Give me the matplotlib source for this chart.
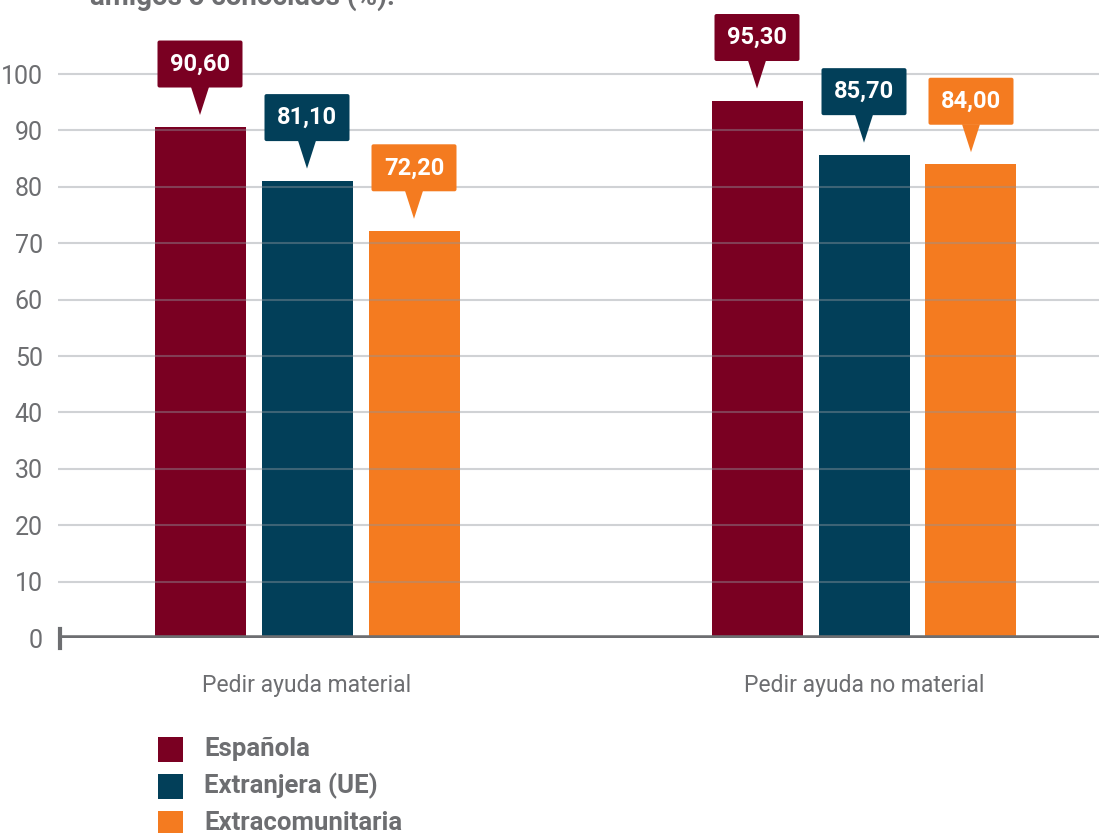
import matplotlib
matplotlib.use("Agg")
import matplotlib.pyplot as plt
import matplotlib.transforms as mtransforms
from matplotlib.patches import Polygon, FancyBboxPatch, Rectangle
import numpy as np

categories = ["Pedir ayuda material", "Pedir ayuda no material"]
series = ["Española", "Extranjera (UE)", "Extracomunitaria"]
values = {
    "Española": [90.60, 95.30],
    "Extranjera (UE)": [81.10, 85.70],
    "Extracomunitaria": [72.20, 84.00],
}
labels = {
    "Española": ["90,60", "95,30"],
    "Extranjera (UE)": ["81,10", "85,70"],
    "Extracomunitaria": ["72,20", "84,00"],
}
colors = ["#7a0022", "#023f59", "#f47b20"]
yticks = [0, 10, 20, 30, 40, 50, 60, 70, 80, 90, 100]
title = "amigos o conocidos (%)."

W, H = 1099, 833
fig = plt.figure(figsize=(W / 100, H / 100), dpi=100)
gray = "#6d6e71"
font = "Roboto"

ax_left, ax_right = 58, 1099
y0_px, y100_px = 638, 74
ppu = (y0_px - y100_px) / 100.0
ymax = 110
ax_top_px = y0_px - ymax * ppu
ax = fig.add_axes([ax_left / W, 1 - y0_px / H, (ax_right - ax_left) / W, (y0_px - ax_top_px) / H])
ax.set_ylim(0, ymax)

pitch = 107 / 557.0
bw = 91 / 557.0
ax.set_xlim(-249 / 557.0, 1 + 235 / 557.0)
x = np.arange(len(categories))

for i, s in enumerate(series):
    xs = x + (i - 1) * pitch
    ax.bar(xs, values[s], width=bw, color=colors[i], zorder=2)

for t in yticks[1:]:
    ax.axhline(t, color="#8f959c", alpha=0.42, lw=1.5, zorder=3)

ax.axhline(0, color=gray, lw=4, zorder=4)

for sp in ax.spines.values():
    sp.set_visible(False)
ax.set_yticks(yticks)
ax.set_yticklabels([str(t) for t in yticks], fontsize=18, color=gray, fontfamily=font, fontweight="normal")
ax.tick_params(axis="y", length=0, pad=11)
ax.set_xticks(x)
ax.set_xticklabels(categories, fontsize=16.5, color=gray, fontfamily=font, fontweight="normal")
ax.tick_params(axis="x", length=0, pad=26)

fig.add_artist(plt.Line2D([59.5 / W, 59.5 / W], [1 - 629 / H, 1 - 648 / H], color=gray, lw=3))

for i, s in enumerate(series):
    xs = x + (i - 1) * pitch
    for xc, v, lab in zip(xs, values[s], labels[s]):
        tr = mtransforms.Affine2D() + mtransforms.ScaledTranslation(xc, v, ax.transData)
        tri = Polygon([[0, 12], [-9, 40], [9, 40]], closed=True, transform=tr,
                      facecolor=colors[i], edgecolor="none", zorder=5, clip_on=False)
        ax.add_patch(tri)
        box = FancyBboxPatch((-41, 41), 82, 44, boxstyle="round,pad=1.5,rounding_size=2",
                             transform=tr, facecolor=colors[i], edgecolor="none",
                             zorder=5, clip_on=False)
        ax.add_patch(box)
        ax.text(0, 63, lab, transform=tr, ha="center", va="center", color="white",
                fontsize=17, fontweight="bold", fontfamily=font, zorder=6)

fig.text(90 / W, 1 - 5 / H, title, ha="left", va="baseline", fontsize=20,
         fontweight="bold", color=gray, fontfamily=font)

for j, s in enumerate(series):
    cy = 749 + j * 37
    fig.add_artist(Rectangle((158 / W, 1 - (cy + 12.5) / H), 25 / W, 25 / H,
                             transform=fig.transFigure, facecolor=colors[j], edgecolor="none"))
    fig.text(204 / W, 1 - cy / H, s, ha="left", va="center", fontsize=18.5,
             fontweight="bold", color=gray, fontfamily=font)

fig.savefig("out.png", dpi=100)
